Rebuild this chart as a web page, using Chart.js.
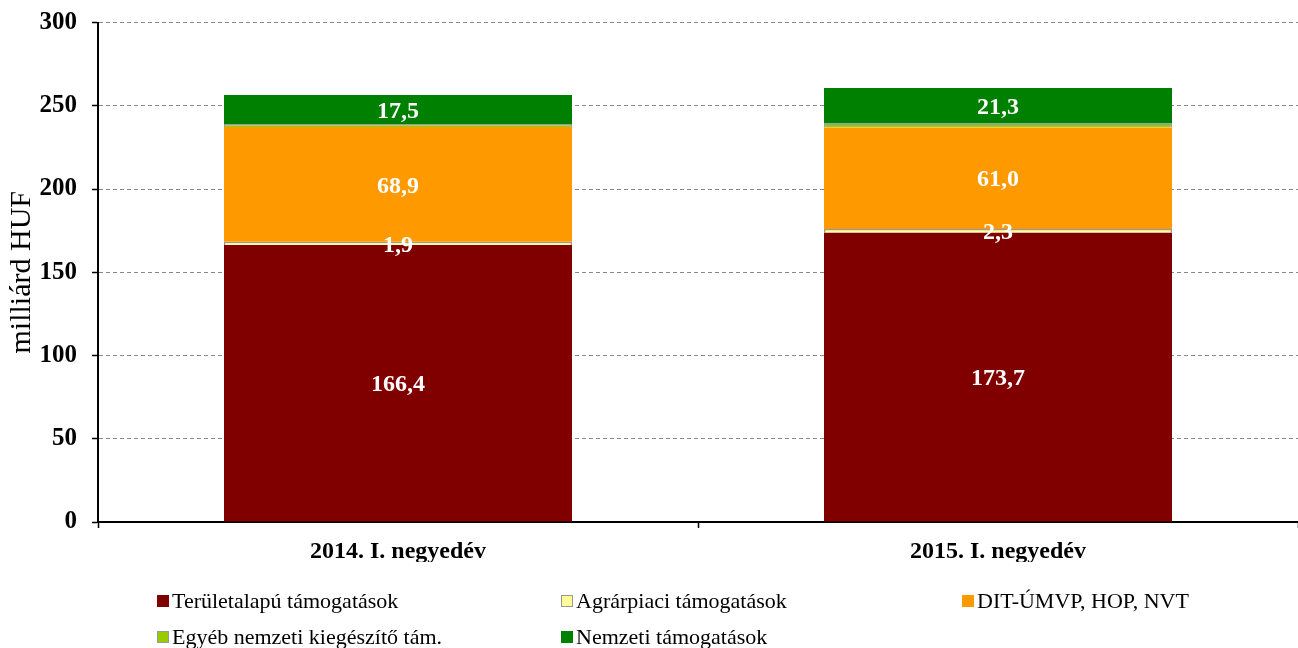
<!DOCTYPE html>
<html>
<head>
<meta charset="utf-8">
<script src="https://cdn.jsdelivr.net/npm/chart.js@4"></script>
<style>
  body { margin: 0; background: #fff; }
  #wrap { position: relative; width: 1298px; height: 648px; }
  #legend { position: absolute; left: 0; top: 0; width: 1298px; height: 648px; pointer-events: none;
            font-family: "Liberation Serif", "Times New Roman", serif; font-size: 22px; color: #000; }
  .item { position: absolute; white-space: nowrap; display: flex; align-items: center; height: 24px; }
  .box { width: 12px; height: 12px; margin-right: 3px; box-sizing: border-box; }
</style>
</head>
<body>
<div id="wrap">
  <canvas id="chart" width="1298" height="648"></canvas>
  <div id="legend"></div>
</div>
<script>
// categories and series (milliárd HUF)
const categories = ['2014. I. negyedév', '2015. I. negyedév'];
const seriesNames = ['Területalapú támogatások', 'Agrárpiaci támogatások', 'DIT-ÚMVP, HOP, NVT',
                     'Egyéb nemzeti kiegészítő tám.', 'Nemzeti támogatások'];
const teruletalapu = [166.4, 173.7];
const agrarpiaci = [1.9, 2.3];
const ditUmvp = [68.9, 61.0];
const egyebNemzeti = [1.8, 2.4];
const nemzeti = [17.5, 21.3];
const yTicks = [0, 50, 100, 150, 200, 250, 300];

const fills = ['#800000', '#FFFF99', '#FF9900', '#99CC00', '#008000'];
const borders = ['#800000', '#999999', '#FF9900', '#999999', '#008000'];
const showLabel = [true, true, true, false, true];
const seriesData = [teruletalapu, agrarpiaci, ditUmvp, egyebNemzeti, nemzeti];

const serif = '"Liberation Serif", "Times New Roman", serif';

// draws the value labels in the middle of each segment
const segmentLabels = {
    id: 'segmentLabels',
    afterDatasetsDraw(chart) {
        const ctx = chart.ctx;
        ctx.save();
        ctx.font = 'bold 24px ' + serif;
        ctx.fillStyle = '#fff';
        ctx.textAlign = 'center';
        ctx.textBaseline = 'middle';
        chart.data.datasets.forEach((ds, i) => {
            if (!showLabel[i]) return;
            chart.getDatasetMeta(i).data.forEach((bar, j) => {
                const mid = (bar.y + bar.base) / 2;
                ctx.fillText(ds.data[j].toFixed(1).replace('.', ','), bar.x, mid + 2);
            });
        });
        ctx.restore();
    }
};

const datasets = seriesNames.map((name, i) => ({
    label: name,
    data: seriesData[i],
    backgroundColor: fills[i],
    borderColor: borders[i],
    borderWidth: (i === 1 || i === 3) ? 1.5 : 0,
    categoryPercentage: 1.0,
    barPercentage: 0.58
}));

new Chart(document.getElementById('chart'), {
    type: 'bar',
    data: { labels: categories, datasets: datasets },
    plugins: [segmentLabels],
    options: {
        responsive: false,
        animation: false,
        layout: { padding: { top: 22, right: 0, bottom: 86, left: 4 } },
        plugins: {
            legend: { display: false },
            tooltip: { enabled: false }
        },
        scales: {
            x: {
                stacked: true,
                grid: { drawOnChartArea: false, tickColor: '#000', tickLength: 6, tickWidth: 1.5 },
                border: { color: '#000', width: 2 },
                ticks: { color: '#000', font: { family: serif, size: 24, weight: 'bold' }, padding: 9 },
                afterFit(scale) { scale.height = 40; }
            },
            y: {
                stacked: true,
                min: 0,
                max: 300,
                afterBuildTicks(scale) { scale.ticks = yTicks.map(v => ({ value: v })); },
                grid: { color: '#888', lineWidth: 1, tickColor: '#000', tickLength: 6, tickWidth: 1.5 },
                border: { color: '#000', width: 2, dash: [4, 3] },
                ticks: { color: '#000', font: { family: serif, size: 25, weight: 'bold', lineHeight: 0.6 }, padding: 15 },
                title: { display: true, text: 'milliárd HUF', color: '#000',
                         font: { family: serif, size: 30 }, padding: { top: 0, bottom: 2 } },
                afterFit(scale) { scale.width = 94; }
            }
        }
    }
});

// legend in three columns, two rows
const legendPos = [[157, 601], [561, 601], [962, 601], [157, 637], [561, 637]];
const legend = document.getElementById('legend');
seriesNames.forEach((name, i) => {
    const item = document.createElement('div');
    item.className = 'item';
    item.style.left = legendPos[i][0] + 'px';
    item.style.top = (legendPos[i][1] - 12) + 'px';
    const box = document.createElement('span');
    box.className = 'box';
    box.style.background = fills[i];
    box.style.border = '1.5px solid ' + borders[i];
    const text = document.createElement('span');
    text.textContent = name;
    item.appendChild(box);
    item.appendChild(text);
    legend.appendChild(item);
});
</script>
</body>
</html>
